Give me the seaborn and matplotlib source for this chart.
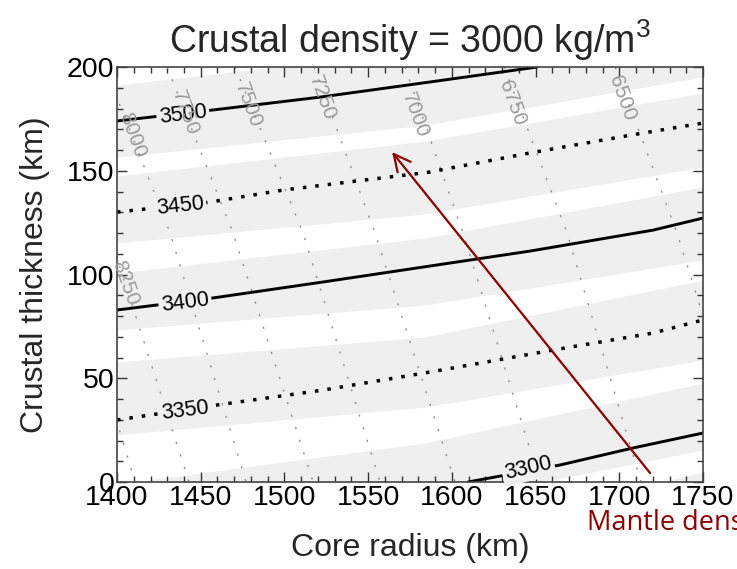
import numpy as np
import pandas as pd
import matplotlib
matplotlib.use("Agg")
import matplotlib.pyplot as plt
import seaborn as sns
from matplotlib.ticker import MultipleLocator

# ---------------------------------------------------------------------------
# Mantle-density contours (kg/m^3): core radius (km) -> crustal thickness (km)
# ---------------------------------------------------------------------------
m3500_r = [1400, 1457.3, 1521.3, 1587.0, 1650.9]
m3500_h = [174.0, 179.3, 185.5, 192.8, 200.0]
m3450_r = [1400, 1455.6, 1499.2, 1587.0, 1646.7, 1710.6, 1750]
m3450_h = [130.1, 134.9, 140.7, 149.4, 158.6, 167.7, 173.0]
m3400_r = [1400, 1457.3, 1523.1, 1587.0, 1646.7, 1720.2, 1750]
m3400_h = [82.9, 88.7, 96.4, 104.1, 111.3, 121.4, 127.2]
m3350_r = [1400, 1459.7, 1523.1, 1587.0, 1660.5, 1720.2, 1750]
m3350_h = [29.9, 37.1, 44.3, 53.0, 63.6, 71.8, 78.1]
m3300_r = [1609.7, 1664.6, 1708.2, 1750]
m3300_h = [0.0, 8.2, 16.4, 23.6]

mantle_labels = ["3500", "3450", "3400", "3350", "3300"]
mantle_label_r = [1439.4, 1437.6, 1440.6, 1440.6, 1645.5]
mantle_label_h = [176.9, 133.0, 86.7, 34.2, 6.7]
mantle_label_rot = [7, 6, 7, 7, 13]

# ---------------------------------------------------------------------------
# Core-density contours (kg/m^3): core radius at three crustal thicknesses
# ---------------------------------------------------------------------------
core_levels = [8500, 8250, 8000, 7750, 7500, 7250, 7000, 6750, 6500]
core_thick = [200, 120, 0]
core_r_at_200 = [1330.0, 1359.4, 1392.8, 1429.9, 1470.5, 1517.7, 1572.0, 1631.2, 1697.5]
core_r_at_120 = [1366.0, 1395.2, 1431.7, 1469.3, 1511.1, 1554.1, 1606.7, 1668.8, 1734.5]
core_r_at_0 = [1410.8, 1443.0, 1477.1, 1517.1, 1557.1, 1601.9, 1652.7, 1713.0, 1781.1]

core_labels = ["8000", "7750", "7500", "7250", "7000", "6750", "6500", "8250"]
core_label_r = [1409.0, 1440.6, 1478.3, 1522.5, 1578.0, 1636.0, 1701.7, 1404.8]
core_label_h = [167.2, 177.8, 181.7, 185.1, 176.9, 182.7, 185.1, 95.9]

# ---------------------------------------------------------------------------
# Alternating shaded bands: white stripes on a light-grey field
# ---------------------------------------------------------------------------
band_r = [1400, 1584, 1750]
band_lower = [
    [191.3, 208.2, 232.0],
    [147.5, 164.3, 187.5],
    [100.7, 117.6, 142.2],
    [57.8, 69.9, 97.3],
    [-1.0, 18.8, 47.7],
    [-37.6, -25.5, 4.8],
]
band_upper = [
    [202.4, 218.0, 240.0],
    [156.6, 172.0, 195.2],
    [115.2, 129.2, 151.8],
    [73.3, 85.3, 107.0],
    [22.7, 36.1, 58.8],
    [-23.1, -11.1, 15.4],
]

# Annotation arrow (core radius, crustal thickness)
arrow_tail = (1718.4, 4.3)
arrow_head = (1564.3, 159.0)

sns.set_style("ticks")
plt.rcParams["font.family"] = ["Liberation Sans", "DejaVu Sans"]
plt.rcParams["mathtext.fontset"] = "custom"
plt.rcParams["mathtext.rm"] = "Liberation Sans"
plt.rcParams["mathtext.it"] = "Liberation Sans"

fig = plt.figure(figsize=(7.37, 5.69), dpi=100)
ax = fig.add_axes([0.1588, 0.1529, 0.7951, 0.7293])
ax.set_facecolor("#efefef")

for lo, hi in zip(band_lower, band_upper):
    ax.fill_between(band_r, lo, hi, color="white", lw=0, zorder=0.5)

# Core-density contours: grey, sparsely dotted
core_rows = []
for i, lev in enumerate(core_levels):
    for r, h in zip([core_r_at_200[i], core_r_at_120[i], core_r_at_0[i]], core_thick):
        core_rows.append({"level": lev, "radius": r, "thickness": h})
core_df = pd.DataFrame(core_rows)
for lev, grp in core_df.groupby("level"):
    sns.lineplot(data=grp, x="radius", y="thickness", sort=False, estimator=None,
                 ax=ax, color="#8c8c8c", lw=1.0, linestyle=(0, (1.5, 8)), zorder=1)

# Mantle-density contours: alternating solid / dotted black lines
mantle_sets = [
    (m3500_r, m3500_h, "-"),
    (m3450_r, m3450_h, (0, (1, 2.6))),
    (m3400_r, m3400_h, "-"),
    (m3350_r, m3350_h, (0, (1, 2.6))),
    (m3300_r, m3300_h, "-"),
]
for r, h, ls in mantle_sets:
    sns.lineplot(x=r, y=h, sort=False, estimator=None, ax=ax, color="black",
                 lw=2.5 if ls != "-" else 2.1, linestyle=ls, zorder=2)

for txt, r, h, rot in zip(mantle_labels, mantle_label_r, mantle_label_h, mantle_label_rot):
    ax.text(r, h, txt, ha="center", va="center", rotation=rot, rotation_mode="anchor",
            fontsize=15.5, color="black", zorder=3,
            bbox=dict(boxstyle="square,pad=0.12", fc="#efefef", ec="none"))

for txt, r, h in zip(core_labels, core_label_r, core_label_h):
    ax.text(r, h, txt, ha="center", va="center", rotation=-70, rotation_mode="anchor",
            fontsize=15, color="#9a9a9a", zorder=3.5)

ax.annotate("", xy=arrow_head, xytext=arrow_tail,
            arrowprops=dict(arrowstyle="->,head_length=0.4,head_width=0.2",
                            color="#8b0000", lw=1.6, mutation_scale=30,
                            shrinkA=0, shrinkB=0),
            zorder=5)

ax.set_xlim(1400, 1750)
ax.set_ylim(0, 200)
ax.xaxis.set_major_locator(MultipleLocator(50))
ax.xaxis.set_minor_locator(MultipleLocator(10))
ax.yaxis.set_major_locator(MultipleLocator(50))
ax.yaxis.set_minor_locator(MultipleLocator(10))
ax.tick_params(which="both", direction="in", top=True, right=True, width=1.0,
               colors="#333333", labelcolor="black", labelsize=20.5)
ax.tick_params(which="major", length=7, pad=2)
ax.tick_params(which="minor", length=4)
for sp in ax.spines.values():
    sp.set_color("#444444")
    sp.set_linewidth(1.2)

ax.set_xlabel("Core radius (km)", fontsize=23, labelpad=16)
ax.set_ylabel("Crustal thickness (km)", fontsize=23, labelpad=12)
ax.set_title("Crustal density = 3000 kg/m$^3$", fontsize=27, pad=10)

fig.text(587 / 737, 1 - 530 / 569, "Mantle density", color="#8b0000",
         fontsize=19.5, family=["Open Sans", "DejaVu Sans"], va="baseline", ha="left")

fig.savefig("out.png", dpi=100)
